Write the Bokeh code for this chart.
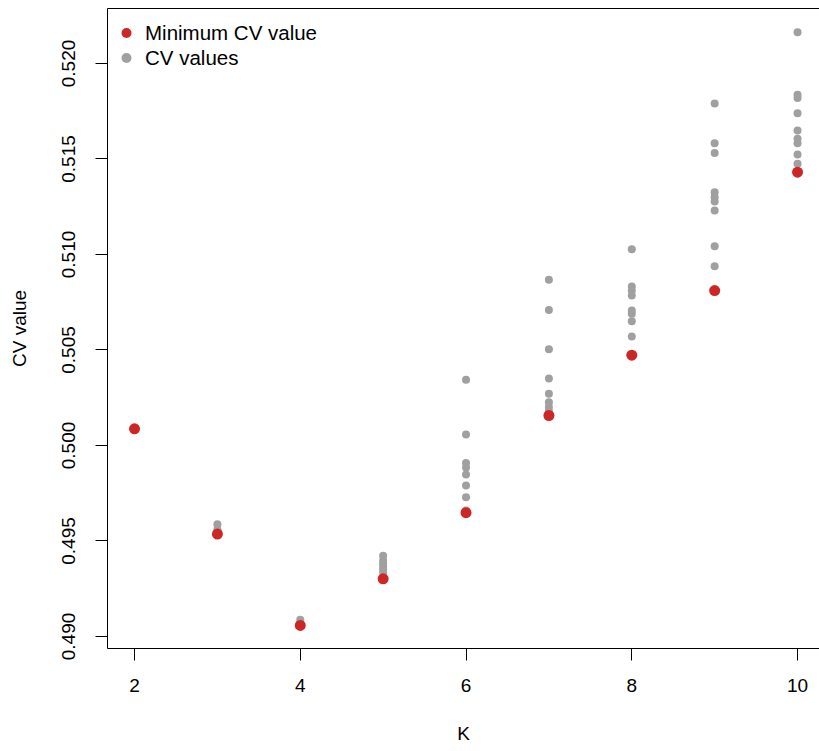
from bokeh.plotting import figure
from bokeh.models import LinearAxis, FixedTicker, Legend, LegendItem, ColumnDataSource, CustomJSTickFormatter
from bokeh.embed import file_html
from bokeh.resources import INLINE

# ---- data ----
k_values = [2, 3, 4, 5, 6, 7, 8, 9, 10]
min_cv = [0.50087, 0.49536, 0.49058, 0.49302, 0.49648, 0.50157, 0.50473, 0.50811, 0.51431]

cv_k2 = [0.50087, 0.50087]
cv_k3 = [0.49588, 0.49560, 0.49536]
cv_k4 = [0.49087, 0.49070, 0.49058]
cv_k5 = [0.49423, 0.49398, 0.49382, 0.49366, 0.49351, 0.49335, 0.49302]
cv_k6 = [0.50344, 0.50058, 0.49908, 0.49885, 0.49848, 0.49790, 0.49729, 0.49660, 0.49648]
cv_k7 = [0.50868, 0.50710, 0.50504, 0.50351, 0.50271, 0.50227, 0.50201, 0.50180, 0.50157]
cv_k8 = [0.51028, 0.50832, 0.50812, 0.50785, 0.50707, 0.50690, 0.50651, 0.50571, 0.50473]
cv_k9 = [0.51791, 0.51583, 0.51532, 0.51326, 0.51300, 0.51277, 0.51230, 0.51043, 0.50939, 0.50811]
cv_k10 = [0.52164, 0.51836, 0.51820, 0.51740, 0.51649, 0.51606, 0.51583, 0.51524, 0.51475, 0.51431]

x_ticks = [2, 4, 6, 8, 10]
y_ticks = [0.490, 0.495, 0.500, 0.505, 0.510, 0.515, 0.520]

runs = [cv_k2, cv_k3, cv_k4, cv_k5, cv_k6, cv_k7, cv_k8, cv_k9, cv_k10]
gx, gy = [], []
for k, vals in zip(k_values, runs):
    for v in vals:
        gx.append(k)
        gy.append(v)

FONT = "Liberation Sans"
RED = "#CD2626"
GRAY = "#A0A0A0"

p = figure(width=819, height=751, output_backend="svg", toolbar_location=None,
           x_range=(1.674, 10.265), y_range=(0.48937, 0.52288),
           x_axis_location=None, y_axis_location=None,
           min_border_left=107, min_border_right=0, min_border_top=8, min_border_bottom=103)
p.outline_line_color = None
p.xgrid.visible = False
p.ygrid.visible = False
p.background_fill_color = "white"
p.border_fill_color = "white"

xaxis = LinearAxis(ticker=FixedTicker(ticks=x_ticks), axis_label="K")
yaxis = LinearAxis(ticker=FixedTicker(ticks=y_ticks), axis_label="CV value")
for ax in (xaxis, yaxis):
    ax.axis_line_color = "black"
    ax.axis_line_width = 1
    ax.major_tick_out = 12
    ax.major_tick_in = 0
    ax.minor_tick_out = 0
    ax.minor_tick_in = 0
    ax.major_tick_line_color = "black"
    ax.major_label_text_font = FONT
    ax.major_label_text_font_size = "19px"
    ax.major_label_text_color = "black"
    ax.axis_label_text_font = FONT
    ax.axis_label_text_font_size = "19px"
    ax.axis_label_text_font_style = "normal"
    ax.axis_label_text_color = "black"
yaxis.formatter = CustomJSTickFormatter(code="return tick.toFixed(3);")
yaxis.major_label_orientation = "vertical"
yaxis.major_label_standoff = 20
yaxis.axis_label_standoff = 30
xaxis.major_label_standoff = 18
xaxis.axis_label_standoff = 28
p.add_layout(xaxis, "below")
p.add_layout(yaxis, "left")

# top border line
top = LinearAxis(ticker=FixedTicker(ticks=[]), major_tick_out=0, major_tick_in=0,
                 minor_tick_out=0, minor_tick_in=0, major_label_text_font_size="0px",
                 axis_line_color="black")
p.add_layout(top, "above")

src_g = ColumnDataSource(dict(x=gx, y=gy))
src_r = ColumnDataSource(dict(x=k_values, y=min_cv))
rg = p.scatter("x", "y", source=src_g, size=8, color=GRAY, line_color=None)
rr = p.scatter("x", "y", source=src_r, size=11, color=RED, line_color=None)

legend = Legend(items=[LegendItem(label="Minimum CV value", renderers=[rr]),
                       LegendItem(label="CV values", renderers=[rg])],
                location=(6, 578), margin=0, padding=0, spacing=0,
                glyph_width=26, glyph_height=25, label_height=25, label_standoff=6,
                label_text_font=FONT, label_text_font_size="20.5px", label_text_color="black",
                border_line_color=None, background_fill_alpha=0)
p.add_layout(legend)

open("out.html", "w").write(file_html(p, INLINE))
